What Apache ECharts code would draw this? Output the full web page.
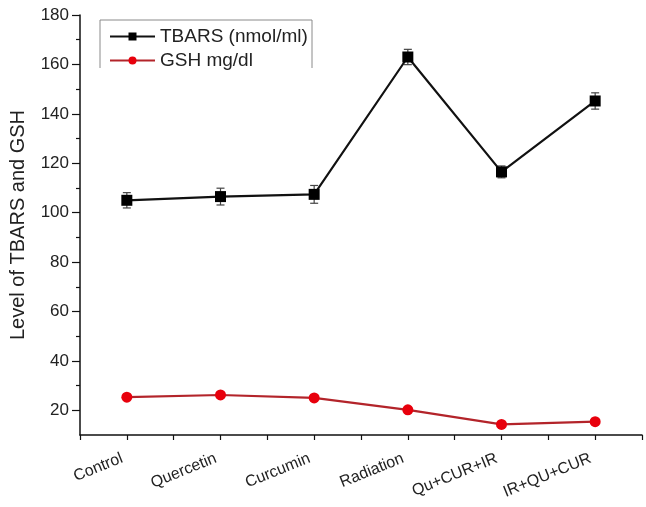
<!DOCTYPE html>
<html>
<head>
<meta charset="utf-8">
<script src="https://cdn.jsdelivr.net/npm/echarts@6/dist/echarts.min.js"></script>
<style>
  html, body { margin: 0; padding: 0; background: #fff; }
  #chart { width: 646px; height: 507px; }
</style>
</head>
<body>
<div id="chart"></div>
<script>
  var categories = ['Control', 'Quercetin', 'Curcumin', 'Radiation', 'Qu+CUR+IR', 'IR+QU+CUR']
  var tbars = [105, 106.5, 107.4, 163, 116.5, 145.2]
  var tbarsErr = [3.1, 3.4, 3.6, 3.1, 2.4, 3.3]
  var gsh = [25.3, 26.2, 25, 20.2, 14.3, 15.4]
  var yLabels = [20, 40, 60, 80, 100, 120, 140, 160, 180]
  var yMinor = [30, 50, 70, 90, 110, 130, 150, 170]

  var font = 'Liberation Sans, Arial, sans-serif'

  function pairs (arr) {
    return arr.map(function (v, i) { return [i, v] })
  }

  var errData = tbars.map(function (v, i) { return [i, v, tbarsErr[i]] })

  var myChart = echarts.init(document.getElementById('chart'))
  myChart.setOption({
    animation: false,
    textStyle: { fontFamily: font },
    grid: { left: 77, right: 4, top: 15, bottom: 72 },
    graphic: [{
      type: 'polyline',
      shape: { points: [[100, 68], [100, 20], [312, 20], [312, 68]] },
      style: { stroke: '#8a8a8a', lineWidth: 1, fill: null }
    }],
    legend: {
      orient: 'vertical',
      left: 104,
      top: 22,
      itemWidth: 45,
      itemHeight: 10,
      itemGap: 5,
      textStyle: { fontSize: 19, color: '#222', fontFamily: font },
      data: ['TBARS (nmol/ml)', 'GSH mg/dl']
    },
    xAxis: {
      type: 'value',
      min: -0.5,
      max: 5.5,
      interval: 0.5,
      splitLine: { show: false },
      axisLine: { lineStyle: { color: '#111', width: 1.5 } },
      axisTick: { length: 5, lineStyle: { color: '#111', width: 1.2 } },
      axisLabel: {
        rotate: 22,
        fontSize: 16,
        color: '#222',
        margin: 21,
        padding: [0, 5, 0, 0],
        formatter: function (v) {
          return Number.isInteger(v) ? categories[v] : ''
        }
      }
    },
    yAxis: [{
      type: 'value',
      min: 10,
      max: 180,
      name: 'Level of TBARS and GSH',
      nameLocation: 'middle',
      nameGap: 52,
      nameTextStyle: { fontSize: 20, color: '#222' },
      splitLine: { show: false },
      axisLine: { show: true, onZero: false, lineStyle: { color: '#111', width: 1.5 } },
      axisTick: { show: true, length: 8, customValues: yLabels, lineStyle: { color: '#111', width: 1.2 } },
      axisLabel: { fontSize: 17, color: '#222', margin: 11, customValues: yLabels }
    }, {
      type: 'value',
      position: 'left',
      offset: 0,
      min: 10,
      max: 180,
      splitLine: { show: false },
      axisLine: { show: false, onZero: false },
      axisTick: { show: true, length: 4, customValues: yMinor, lineStyle: { color: '#111', width: 1.2 } },
      axisLabel: { show: false }
    }],
    series: [
      {
        name: 'TBARS (nmol/ml)',
        type: 'line',
        data: pairs(tbars),
        symbol: 'rect',
        symbolSize: 11,
        z: 3,
        itemStyle: { color: '#000' },
        lineStyle: { color: '#111', width: 2.2 }
      },
      {
        name: 'GSH mg/dl',
        type: 'line',
        data: pairs(gsh),
        symbol: 'circle',
        symbolSize: 11,
        z: 3,
        itemStyle: { color: '#e8000c' },
        lineStyle: { color: '#b3242a', width: 2.2 }
      },
      {
        type: 'custom',
        name: 'err',
        z: 2,
        data: errData,
        renderItem: function (params, api) {
          var x = api.value(0)
          var y = api.value(1)
          var e = api.value(2)
          var top = api.coord([x, y + e])
          var bot = api.coord([x, y - e])
          var w = 4
          var st = { stroke: '#444', lineWidth: 1.2 }
          return {
            type: 'group',
            children: [
              { type: 'line', shape: { x1: top[0], y1: top[1], x2: bot[0], y2: bot[1] }, style: st },
              { type: 'line', shape: { x1: top[0] - w, y1: top[1], x2: top[0] + w, y2: top[1] }, style: st },
              { type: 'line', shape: { x1: bot[0] - w, y1: bot[1], x2: bot[0] + w, y2: bot[1] }, style: st }
            ]
          }
        }
      }
    ]
  })
</script>
</body>
</html>
